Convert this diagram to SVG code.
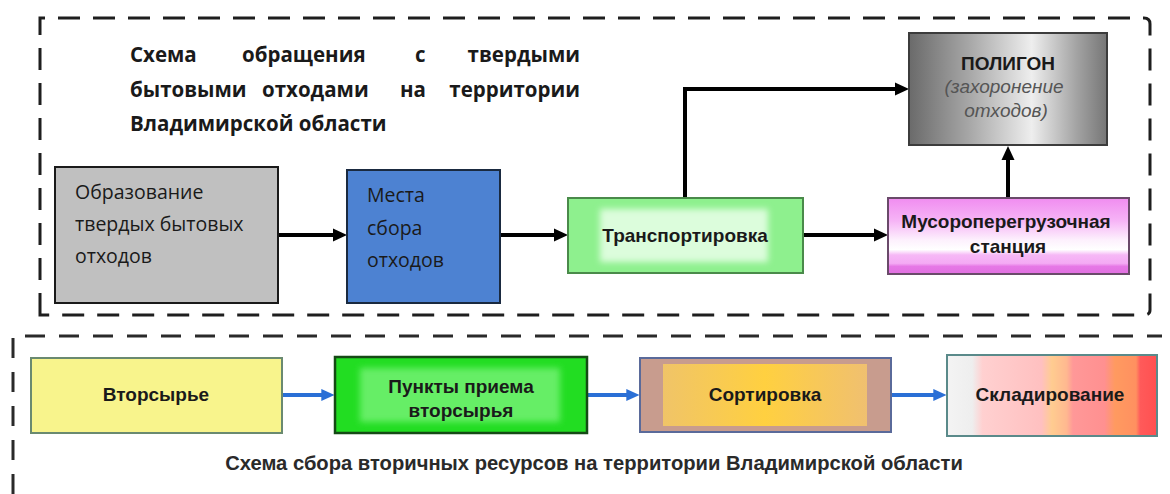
<svg xmlns="http://www.w3.org/2000/svg" width="1170" height="494" viewBox="0 0 1170 494">
<defs>
<style>
.title{font-family:"Open Sans","DejaVu Sans",sans-serif;font-weight:bold;font-size:20.5px;fill:#1a1a1a}
.cal{font-family:"Open Sans","DejaVu Sans",sans-serif;font-size:19.5px;fill:#1a1a1a}
.ar{font-family:"Liberation Sans",Arial,sans-serif;font-weight:bold;font-size:19px;fill:#1a1a1a;text-anchor:middle}
.it{font-family:"Liberation Sans",Arial,sans-serif;font-style:italic;font-size:19px;fill:#555;text-anchor:middle}
.cap{font-family:"Liberation Sans",Arial,sans-serif;font-weight:bold;font-size:20.2px;fill:#2a2a2a;text-anchor:middle}
.dash1{fill:none;stroke:#1e1e1e;stroke-width:3;stroke-dasharray:22 13}
.dash2{fill:none;stroke:#2a2a2a;stroke-width:3;stroke-dasharray:20 14}
.blk{fill:none;stroke:#000;stroke-width:4;marker-end:url(#ah)}
.blu{fill:none;stroke:#2a6fd6;stroke-width:4;marker-end:url(#bh)}
</style>
<marker id="ah" viewBox="0 0 14 14" markerWidth="14" markerHeight="14" markerUnits="userSpaceOnUse" refX="4" refY="7" orient="auto">
<path d="M0,0.5 L14,7 L0,13.5 z" fill="#000"/>
</marker>
<marker id="bh" viewBox="0 0 14 14" markerWidth="13" markerHeight="13" markerUnits="userSpaceOnUse" refX="4" refY="7" orient="auto">
<path d="M0,0.5 L14,7 L0,13.5 z" fill="#2a6fd6"/>
</marker>
<linearGradient id="gPol" x1="0" y1="0" x2="1" y2="0">
<stop offset="0" stop-color="#6a6a6a"/>
<stop offset="0.3" stop-color="#a6a6a6"/>
<stop offset="0.62" stop-color="#eeeeee"/>
<stop offset="0.85" stop-color="#a2a2a2"/>
<stop offset="1" stop-color="#767676"/>
</linearGradient>
<linearGradient id="gPink" x1="0" y1="0" x2="0" y2="1">
<stop offset="0" stop-color="#f08cf0"/>
<stop offset="0.3" stop-color="#f6b4f6"/>
<stop offset="0.55" stop-color="#fdf0fd"/>
<stop offset="0.68" stop-color="#ffffff"/>
<stop offset="0.75" stop-color="#f6b8f6"/>
<stop offset="0.86" stop-color="#f4aaf4"/>
<stop offset="0.9" stop-color="#e678e6"/>
<stop offset="1" stop-color="#e070e0"/>
</linearGradient>
<linearGradient id="gSort" x1="0" y1="0" x2="1" y2="0">
<stop offset="0" stop-color="#f0c468"/>
<stop offset="0.5" stop-color="#ffd040"/>
<stop offset="1" stop-color="#f0c070"/>
</linearGradient>
<linearGradient id="gSklad" x1="0" y1="0" x2="1" y2="0">
<stop offset="0" stop-color="#f4f4f4"/>
<stop offset="0.12" stop-color="#eeeeee"/>
<stop offset="0.17" stop-color="#ffd0d0"/>
<stop offset="0.45" stop-color="#ffc0c0"/>
<stop offset="0.5" stop-color="#ffcc90"/>
<stop offset="0.57" stop-color="#ffb890"/>
<stop offset="0.6" stop-color="#ff9898"/>
<stop offset="0.75" stop-color="#ff9090"/>
<stop offset="0.8" stop-color="#ff9a60"/>
<stop offset="0.9" stop-color="#ff9060"/>
<stop offset="0.92" stop-color="#ff5a5a"/>
<stop offset="1" stop-color="#ff5050"/>
</linearGradient>
<filter id="blur" x="-10%" y="-20%" width="120%" height="140%"><feGaussianBlur stdDeviation="3"/></filter>
</defs>
<rect width="1170" height="494" fill="#ffffff"/>

<g id="frames">
<path class="dash1" d="M40,315 L40,18 L1144,18 Q1150,18 1150,24 L1150,310 Q1150,315 1144,315 Z"/>
<path class="dash2" d="M13,494 L13,336 L1162,336"/>
</g>

<g id="title">
<text class="title" x="130" y="62">Схема</text>
<text class="title" x="242" y="62">обращения</text>
<text class="title" x="415" y="62">с</text>
<text class="title" x="580" y="62" text-anchor="end">твердыми</text>
<text class="title" x="130" y="97">бытовыми</text>
<text class="title" x="262" y="97">отходами</text>
<text class="title" x="400" y="97">на</text>
<text class="title" x="580" y="97" text-anchor="end">территории</text>
<text class="title" x="130" y="131">Владимирской области</text>
</g>

<g id="connectors">
<path class="blk" d="M278,235 L337,235"/>
<path class="blk" d="M500,235 L558,235"/>
<path class="blk" d="M803,235 L878,235"/>
<path class="blk" d="M1008,198 L1008,156"/>
<path class="blk" d="M685,198 L685,89 L899,89"/>
<path class="blu" d="M282,395 L325,395"/>
<path class="blu" d="M587,395 L630,395"/>
<path class="blu" d="M891,395 L937,395"/>
</g>

<g id="n_obraz">
<rect x="55" y="167" width="223" height="136" fill="#c0c0c0" stroke="#1a1a1a" stroke-width="2"/>
<text class="cal" x="75" y="199">Образование</text>
<text class="cal" x="75" y="231">твердых бытовых</text>
<text class="cal" x="75" y="263">отходов</text>
</g>

<g id="n_mesta">
<rect x="347" y="170" width="153" height="133" fill="#4d82d2" stroke="#1a2a40" stroke-width="2"/>
<text class="cal" x="367" y="202" fill="#16233d">Места</text>
<text class="cal" x="367" y="235" fill="#16233d">сбора</text>
<text class="cal" x="367" y="267" fill="#16233d">отходов</text>
</g>

<g id="n_transport">
<rect x="568" y="198" width="235" height="75" fill="#8ef08e" stroke="#4a8a4a" stroke-width="2"/>
<rect x="600" y="209" width="168" height="53" fill="#dcfddc" filter="url(#blur)"/>
<text class="ar" x="685" y="242">Транспортировка</text>
</g>

<g id="n_musor">
<rect x="888" y="198" width="241" height="76" fill="url(#gPink)" stroke="#6a4a6a" stroke-width="2"/>
<text class="ar" x="1006" y="228">Мусороперегрузочная</text>
<text class="ar" x="1008" y="253">станция</text>
</g>

<g id="n_poligon">
<rect x="909" y="33" width="198" height="112" fill="url(#gPol)" stroke="#3c3c3c" stroke-width="2"/>
<text class="ar" x="1008" y="70">ПОЛИГОН</text>
<text class="it" x="1004" y="93">(захоронение</text>
<text class="it" x="1006" y="117">отходов)</text>
</g>

<g id="n_vtor">
<rect x="31" y="358" width="251" height="75" fill="#f8f48c" stroke="#6a8a70" stroke-width="2"/>
<text class="ar" x="156" y="401" fill="#2a2a10">Вторсырье</text>
</g>

<g id="n_punkty">
<rect x="335" y="357" width="252" height="76" fill="#22dd22" stroke="#154a15" stroke-width="2.5"/>
<rect x="360" y="368" width="200" height="54" fill="#66ee66" filter="url(#blur)"/>
<text class="ar" x="461" y="393" fill="#0a2a0a">Пункты приема</text>
<text class="ar" x="461" y="417" fill="#0a2a0a">вторсырья</text>
</g>

<g id="n_sort">
<rect x="640" y="358" width="251" height="74" fill="#c89c8e" stroke="#5a6a9a" stroke-width="2"/>
<rect x="663" y="364" width="204" height="62" fill="url(#gSort)"/>
<text class="ar" x="765" y="401">Сортировка</text>
</g>

<g id="n_sklad">
<rect x="947" y="355" width="210" height="81" fill="url(#gSklad)" stroke="#5a8a8a" stroke-width="2"/>
<text class="ar" x="1050" y="401">Складирование</text>
</g>

<g id="caption">
<text class="cap" x="594" y="470">Схема сбора вторичных ресурсов на территории Владимирской области</text>
</g>
</svg>
